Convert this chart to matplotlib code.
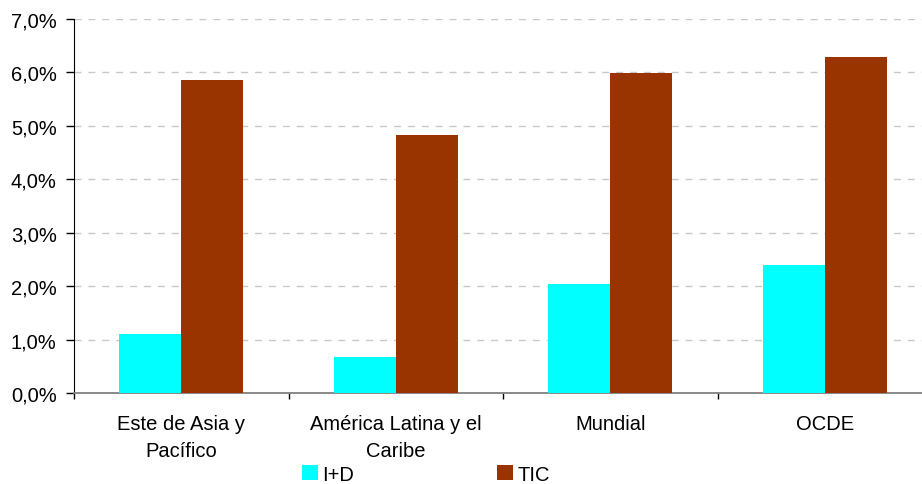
import matplotlib
matplotlib.use("Agg")
import matplotlib.pyplot as plt
import numpy as np
from matplotlib.patches import Patch
from matplotlib.ticker import FuncFormatter

plt.rcParams["font.family"] = ["Liberation Sans", "DejaVu Sans"]

regiones = ["Este de Asia y\nPacífico", "América Latina y el\nCaribe", "Mundial", "OCDE"]
id_gasto = [1.11, 0.67, 2.04, 2.40]
tic_gasto = [5.86, 4.83, 5.99, 6.29]
series = ["I+D", "TIC"]
colores = ["#00FFFF", "#993300"]

fig = plt.figure(figsize=(9.22, 4.85), dpi=100)
# the plot area runs slightly past the right edge of the figure
ax = fig.add_axes([74 / 922, 1 - 394 / 485, 858 / 922, 374 / 485])

x = np.arange(len(regiones))
w = 0.288
ax.bar(x - w / 2, id_gasto, w, color=colores[0], zorder=3)
ax.bar(x + w / 2, tic_gasto, w, color=colores[1], zorder=3)

ax.set_xlim(-0.5, len(regiones) - 0.5)
ax.set_ylim(0, 7)
ax.set_yticks(np.arange(0, 8, 1))
ax.yaxis.set_major_formatter(FuncFormatter(lambda v, p: f"{v:.1f}%".replace(".", ",")))
ax.yaxis.grid(True, linestyle=(0, (5, 5)), color="#c8c8c8", linewidth=1)
ax.set_axisbelow(True)

ax.set_xticks(x)
ax.set_xticklabels(regiones, fontsize=14.5, linespacing=1.55)
ax.tick_params(axis="x", length=0, pad=15)
ax.set_xticks(np.arange(-0.5, len(regiones)), minor=True)
ax.tick_params(axis="x", which="minor", length=4, color="black", width=1)
ax.tick_params(axis="y", length=5.5, width=1, labelsize=14.5, pad=7)

for s in ["top", "right"]:
    ax.spines[s].set_visible(False)
ax.spines["left"].set_color("black")
ax.spines["bottom"].set_color("#808080")
ax.spines["bottom"].set_linewidth(1.3)

handles = [Patch(facecolor=c, edgecolor="none") for c in colores]
fig.legend(handles, series, loc="lower left", bbox_to_anchor=(294 / 922, -0.016),
           ncol=2, frameon=False, fontsize=14.5, handlelength=0.8, handleheight=0.75,
           handletextpad=0.2, columnspacing=7.1, borderaxespad=0)

fig.savefig("out.png", dpi=100)
